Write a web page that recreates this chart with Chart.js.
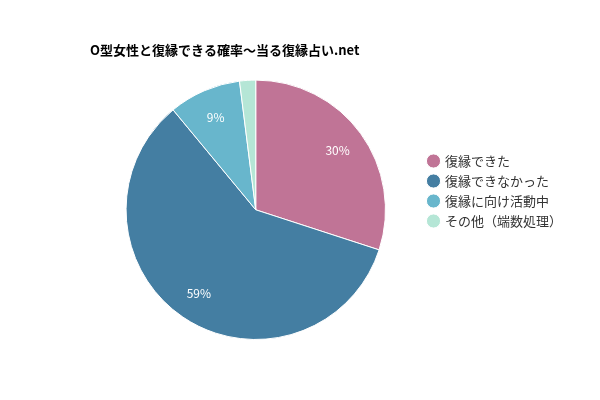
<!DOCTYPE html>
<html><head><meta charset="utf-8">
<script src="https://cdn.jsdelivr.net/npm/chart.js@4"></script>
<style>body{margin:0;background:#fff}#w{width:600px;height:400px}</style></head>
<body><div id="w"><canvas id="c"></canvas></div>
<script>
const categories=['復縁できた','復縁できなかった','復縁に向け活動中','その他（端数処理）'];
const values=[30,59,9,2];
const labels=['30%','59%','9%',''];
const colors=['#c07496','#447ea2','#68b6cc','#b5e6d6'];
const pctPlugin={id:'pct',afterDatasetsDraw(ch){const ctx=ch.ctx;const meta=ch.getDatasetMeta(0);
ctx.save();ctx.fillStyle='#fff';ctx.font='12px "Noto Sans CJK JP", sans-serif';ctx.textAlign='center';ctx.textBaseline='middle';
meta.data.forEach((a,i)=>{if(!labels[i])return;const m=(a.startAngle+a.endAngle)/2;const r=a.outerRadius*0.78;ctx.fillText(labels[i],a.x+Math.cos(m)*r,a.y+Math.sin(m)*r);});ctx.restore();}};
new Chart(document.getElementById('c'),{type:'pie',data:{labels:categories,datasets:[{data:values,backgroundColor:colors,borderColor:'#fff',borderWidth:1}]},
options:{responsive:true,maintainAspectRatio:false,animation:false,layout:{padding:{left:90,top:42,bottom:60,right:28}},
plugins:{tooltip:{enabled:false},title:{display:true,text:'O型女性と復縁できる確率～当る復縁占い.net',align:'start',color:'#000',font:{size:13,weight:'bold',family:'"Noto Sans CJK JP", sans-serif'},padding:{top:0,bottom:22}},
legend:{position:'right',labels:{usePointStyle:true,pointStyle:'circle',boxWidth:10,boxHeight:10,padding:7,color:'#333',font:{size:13,family:'"Noto Sans CJK JP", sans-serif'}}}}},plugins:[pctPlugin]});
</script></body></html>
